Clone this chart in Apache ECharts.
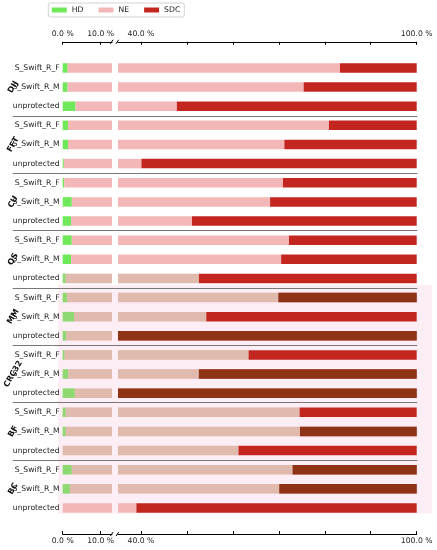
<!DOCTYPE html>
<html><head><meta charset="utf-8">
<script src="https://cdn.jsdelivr.net/npm/echarts@6/dist/echarts.min.js"></script>
<style>html,body{margin:0;padding:0;background:#fff}#c{width:437px;height:550px}</style>
</head><body><div id="c"></div>
<script>
// ---- data ----
const groups = ['DIJ', 'FFT', 'CU', 'QS', 'MM', 'CRC32', 'BF', 'BC'];
const variants = ['S_Swift_R_F', 'S_Swift_R_M', 'unprotected'];
const seriesNames = ['HD', 'NE', 'SDC'];
const hd  = [1.3, 1.3, 3.4,  1.4, 1.4, 0.3,  0.4, 2.4, 2.2,  2.4, 2.2, 0.8,
             1.2, 3.0, 0.9,  0.5, 1.5, 3.2,  0.8, 0.8, 0.0,  2.4, 1.9, 0.0];
const ne  = [82.0, 74.1, 44.4,  79.5, 69.8, 39.8,  70.5, 65.7, 48.9,  69.8, 68.3, 51.8,
             68.7, 51.2, 32.1,  62.9, 51.1, 29.8,  73.7, 73.8, 61.2,  70.6, 68.2, 39.0];
const sdc = [16.7, 24.6, 52.2,  19.1, 28.8, 59.9,  29.1, 31.9, 48.9,  27.8, 29.5, 47.4,
             30.1, 45.8, 67.0,  36.6, 47.4, 67.0,  25.5, 25.4, 38.8,  27.0, 29.9, 61.0];
const leftTicks = [0, 10];
const rightTicks = [40, 50, 60, 70, 80, 90, 100];
const rightLabels = [40, 100];
// rows of the lower half that carry the faded tint of the source image
const tintedRows = [11, 12, 13, 14, 15, 16, 17, 18, 19, 20, 21, 22];
const brownRows = [12, 14, 16, 17, 19, 21, 22];

// ---- layout / style ----
const FONT = 'DejaVu Sans';
const FS = 7.7;
const colors = {HD: '#6fe85a', NE: '#f3b7b7', SDC: '#c3261f'};
const TOP = 58.4, BAND = 19.13, NROWS = groups.length * variants.length;
const H = BAND * NROWS;
const L0 = 62.7, L1 = 112, R0 = 118, R1 = 416.7;
const AX_OFF = 16.6;
const BW = 9.5;

const rowLabels = groups.flatMap(() => variants);
const groupLabels = groups.flatMap(g => ['', g, '']);
const values = {HD: hd, NE: ne, SDC: sdc};
const pct = v => v.toFixed(1) + ' %';

const tintData = hd.map((v, i) => tintedRows.includes(i) ? +(v + ne[i]).toFixed(1) : 0);
const brownData = sdc.map((v, i) => brownRows.includes(i) ? v : 0);
const brownOffset = brownData.map(v => +(100 - v).toFixed(1));

function xAxisDef(grid, pos, min, max, ticks, labels) {
  return {
    type: 'value', gridIndex: grid, position: pos, offset: AX_OFF, min, max,
    axisLine: {show: true, onZero: false, lineStyle: {color: '#000', width: 1}},
    axisTick: {show: true, inside: true, length: 3, customValues: ticks, lineStyle: {color: '#000', width: 1}},
    axisLabel: {show: true, customValues: labels, formatter: pct, margin: pos === 'top' ? 4 : 3,
                fontFamily: FONT, fontSize: FS, color: '#222'},
    splitLine: {show: false}
  };
}

const series = [];
const common = {type: 'bar', barWidth: BW, barGap: '-100%', clip: true, silent: true};
[[0, 0], [2, 2]].forEach(([xi, yi], p) => {
  seriesNames.forEach(n => {
    series.push(Object.assign({}, common, {
      name: n, stack: 'p' + p, xAxisIndex: xi, yAxisIndex: yi,
      data: values[n], itemStyle: {color: colors[n]}
    }));
  });
  series.push(Object.assign({}, common, {
    name: 'tint', stack: 't' + p, xAxisIndex: xi, yAxisIndex: yi,
    data: tintData, itemStyle: {color: '#c2c09a', opacity: 0.38}
  }));
  series.push(Object.assign({}, common, {
    name: 'off', stack: 'b' + p, xAxisIndex: xi, yAxisIndex: yi,
    data: brownOffset, itemStyle: {color: 'rgba(0,0,0,0)'}
  }));
  series.push(Object.assign({}, common, {
    name: 'brown', stack: 'b' + p, xAxisIndex: xi, yAxisIndex: yi,
    data: brownData, itemStyle: {color: '#6e3c12', opacity: 0.62}
  }));
});

const chart = echarts.init(document.getElementById('c'), null, {renderer: 'canvas'});
const option = {
  animation: false,
  backgroundColor: '#fff',
  legend: {
    data: seriesNames, left: 48.3, top: 3, icon: 'rect', itemWidth: 15, itemHeight: 5, itemGap: 15,
    padding: [3, 4, 3, 3.5], borderColor: '#d3d3d3', borderWidth: 1, borderRadius: 2,
    textStyle: {fontFamily: FONT, fontSize: FS, color: '#222'}
  },
  grid: [
    {left: L0, width: L1 - L0, top: TOP, height: H, outerBoundsMode: 'none'},
    {left: R0, width: R1 - R0, top: TOP, height: H, outerBoundsMode: 'none'},
    {left: 12.7, width: R1 + 0.6 - 12.7, top: TOP + 3 * BAND, height: 3 * BAND * (groups.length - 2), outerBoundsMode: 'none'},
    {left: 58, width: 374, top: TOP + 12 * BAND - 3, height: 12 * BAND - 1, outerBoundsMode: 'none',
     show: true, backgroundColor: '#fdeef6', borderWidth: 0}
  ],
  xAxis: [
    xAxisDef(0, 'bottom', 0, 13, leftTicks, leftTicks),
    xAxisDef(0, 'top', 0, 13, leftTicks, leftTicks),
    xAxisDef(1, 'bottom', 35, 100, rightTicks, rightLabels),
    xAxisDef(1, 'top', 35, 100, rightTicks, rightLabels),
    {type: 'value', gridIndex: 2, show: false},
    {type: 'value', gridIndex: 3, show: false}
  ],
  yAxis: [
    {type: 'category', gridIndex: 0, inverse: true, data: rowLabels,
     axisLine: {show: false}, axisTick: {show: false}, splitLine: {show: false},
     axisLabel: {interval: 0, margin: 3, fontFamily: FONT, fontSize: FS, color: '#222'}},
    {type: 'category', gridIndex: 0, inverse: true, position: 'left', data: groupLabels,
     axisLine: {show: false}, axisTick: {show: false}, splitLine: {show: false},
     axisLabel: {interval: 0, margin: 49.5, rotate: 60, align: 'center', verticalAlign: 'middle',
                 fontFamily: FONT, fontSize: 8, fontWeight: 'bold', color: '#111'}},
    {type: 'category', gridIndex: 1, inverse: true, data: rowLabels, show: false},
    {type: 'value', gridIndex: 2, min: 1, max: groups.length - 1, interval: 1,
     axisLine: {show: false}, axisTick: {show: false}, axisLabel: {show: false},
     splitLine: {show: true, lineStyle: {color: '#777', width: 1}}},
    {type: 'value', gridIndex: 3, show: false, splitLine: {show: false}}
  ],
  series
};
chart.setOption(option);

// break marks on the axis lines (decoration)
const yTop = TOP - AX_OFF, yBot = TOP + H + AX_OFF;
const marks = [];
[L1 - 0.3, R0 - 0.7].forEach(x => {
  [yTop, yBot].forEach(y => {
    marks.push({type: 'line', shape: {x1: x - 1.3, y1: y + 2, x2: x + 1.3, y2: y - 2},
                style: {stroke: '#000', lineWidth: 1}, z: 10});
  });
});
chart.setOption({graphic: marks});
</script></body></html>
